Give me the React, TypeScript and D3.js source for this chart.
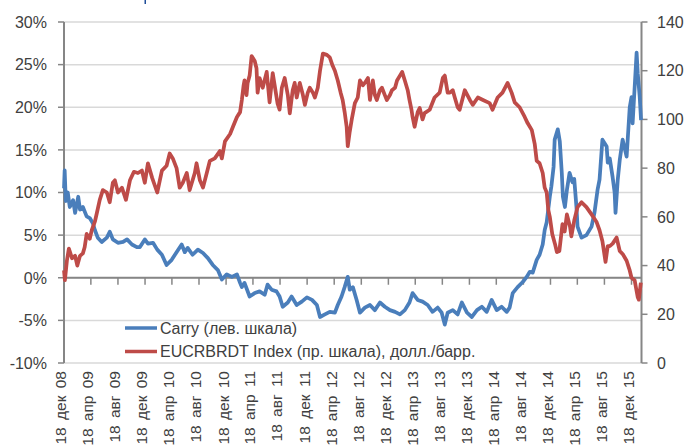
import * as d3 from "d3";

// размеры картинки
const W = 691;
const H = 446;
const plot = { left: 64, right: 641.5, top: 22, bottom: 363 };

const leftTicks = [-10, -5, 0, 5, 10, 15, 20, 25, 30];
const rightTicks = [0, 20, 40, 60, 80, 100, 120, 140];
const monthsRu = ["янв", "фев", "мар", "апр", "май", "июн", "июл", "авг", "сен", "окт", "ноя", "дек"];
const xTickDates = [
  "2008-12-18", "2009-04-18", "2009-08-18", "2009-12-18", "2010-04-18", "2010-08-18",
  "2010-12-18", "2011-04-18", "2011-08-18", "2011-12-18", "2012-04-18", "2012-08-18",
  "2012-12-18", "2013-04-18", "2013-08-18", "2013-12-18", "2014-04-18", "2014-08-18",
  "2014-12-18", "2015-04-18", "2015-08-18", "2015-12-18",
];

const legendLabels = ["Carry (лев. шкала)", "EUCRBRDT Index (пр. шкала), долл./барр."];

// Carry, %
const carry: [string, number][] = [
  ["2008-12-18", 10.5], ["2008-12-21", 12.6], ["2008-12-26", 9.0], ["2009-01-04", 10.0], ["2009-01-13", 8.3],
  ["2009-01-28", 9.1], ["2009-02-06", 7.6], ["2009-02-20", 9.5], ["2009-02-28", 8.0], ["2009-03-13", 8.3],
  ["2009-03-30", 7.2], ["2009-04-13", 7.0], ["2009-04-27", 6.4], ["2009-05-06", 5.6], ["2009-05-19", 4.7],
  ["2009-06-06", 4.2], ["2009-06-29", 4.7], ["2009-07-12", 5.4], ["2009-07-26", 4.5], ["2009-08-18", 4.1],
  ["2009-09-10", 4.2], ["2009-09-28", 4.5], ["2009-10-20", 3.9], ["2009-11-11", 3.6], ["2009-11-25", 3.6],
  ["2009-12-17", 4.5], ["2009-12-31", 4.0], ["2010-01-23", 4.1], ["2010-02-11", 3.3], ["2010-03-04", 2.7],
  ["2010-03-25", 1.5], ["2010-04-17", 2.1], ["2010-05-09", 3.0], ["2010-06-01", 3.9], ["2010-06-15", 3.0],
  ["2010-06-28", 3.5], ["2010-07-20", 2.7], ["2010-08-13", 3.3], ["2010-09-05", 2.9], ["2010-09-27", 2.3],
  ["2010-10-19", 1.5], ["2010-11-11", 0.9], ["2010-11-29", -0.2], ["2010-12-21", 0.4], ["2011-01-13", 0.1],
  ["2011-02-05", 0.4], ["2011-02-19", -0.6], ["2011-02-27", -1.1], ["2011-03-11", -0.6], ["2011-04-03", -2.2],
  ["2011-04-26", -1.8], ["2011-05-18", -1.6], ["2011-06-10", -2.0], ["2011-06-23", -0.8], ["2011-07-11", -1.4],
  ["2011-08-02", -1.6], ["2011-08-16", -2.2], ["2011-08-30", -3.4], ["2011-09-22", -2.9], ["2011-10-09", -2.2],
  ["2011-11-01", -3.2], ["2011-11-24", -2.8], ["2011-12-17", -2.3], ["2012-01-09", -2.6], ["2012-01-31", -3.2],
  ["2012-02-14", -4.6], ["2012-03-07", -4.3], ["2012-03-29", -4.0], ["2012-04-21", -4.1], ["2012-05-04", -3.2],
  ["2012-05-21", -2.2], ["2012-06-04", -1.1], ["2012-06-18", 0.1], ["2012-06-27", -1.4], ["2012-07-11", -1.1],
  ["2012-07-28", -2.6], ["2012-08-12", -4.1], ["2012-09-03", -3.5], ["2012-09-26", -3.2], ["2012-10-18", -3.8],
  ["2012-11-10", -2.9], ["2012-12-02", -3.4], ["2012-12-25", -3.8], ["2013-01-17", -4.0], ["2013-02-08", -4.3],
  ["2013-03-02", -3.8], ["2013-03-23", -2.9], ["2013-04-06", -1.8], ["2013-04-29", -2.6], ["2013-05-21", -2.8],
  ["2013-06-13", -3.2], ["2013-07-05", -4.0], ["2013-07-28", -3.5], ["2013-08-15", -4.1], ["2013-08-29", -5.5],
  ["2013-09-11", -4.1], ["2013-10-04", -3.8], ["2013-10-26", -4.3], ["2013-11-14", -2.9], ["2013-12-07", -4.1],
  ["2013-12-29", -4.6], ["2014-01-21", -3.8], ["2014-02-12", -3.4], ["2014-03-06", -4.0], ["2014-03-28", -2.6],
  ["2014-04-20", -3.8], ["2014-05-12", -3.4], ["2014-06-04", -4.0], ["2014-06-17", -3.5], ["2014-07-01", -1.8],
  ["2014-07-23", -1.1], ["2014-08-15", -0.5], ["2014-09-02", 0.1], ["2014-09-16", 0.7], ["2014-09-29", 0.6],
  ["2014-10-17", 2.1], ["2014-10-30", 2.7], ["2014-11-13", 3.9], ["2014-11-22", 5.6], ["2014-12-01", 6.5],
  ["2014-12-08", 8.0], ["2014-12-15", 9.5], ["2014-12-22", 10.7], ["2015-01-01", 13.0], ["2015-01-06", 16.2],
  ["2015-01-20", 17.4], ["2015-01-29", 16.0], ["2015-02-07", 12.3], ["2015-02-12", 9.5], ["2015-02-21", 8.3],
  ["2015-03-02", 10.3], ["2015-03-14", 12.3], ["2015-03-27", 11.2], ["2015-04-04", 11.6], ["2015-04-14", 8.3],
  ["2015-04-19", 6.0], ["2015-05-07", 4.7], ["2015-05-29", 5.0], ["2015-06-21", 6.0], ["2015-07-04", 7.6],
  ["2015-07-18", 10.3], ["2015-07-27", 11.5], ["2015-08-09", 16.2], ["2015-08-28", 15.4], ["2015-09-02", 13.5],
  ["2015-09-11", 14.0], ["2015-09-24", 11.8], ["2015-10-03", 10.0], ["2015-10-07", 7.6], ["2015-10-17", 11.5],
  ["2015-10-26", 13.8], ["2015-11-08", 16.2], ["2015-11-26", 14.2], ["2015-12-10", 20.0], ["2015-12-18", 21.2],
  ["2015-12-23", 18.1], ["2016-01-10", 26.4], ["2016-01-15", 24.0], ["2016-01-24", 21.2], ["2016-01-30", 18.5],
];

// Brent, долл./барр.
const brent: [string, number][] = [
  ["2008-12-18", 38], ["2008-12-22", 34], ["2008-12-31", 42], ["2009-01-09", 47], ["2009-01-23", 43],
  ["2009-02-06", 44], ["2009-02-16", 40], ["2009-02-28", 44], ["2009-03-13", 45], ["2009-03-21", 47.5],
  ["2009-03-30", 53], ["2009-04-13", 51], ["2009-04-22", 54.5], ["2009-05-06", 58], ["2009-05-15", 61.6],
  ["2009-05-28", 67], ["2009-06-11", 71], ["2009-06-29", 70], ["2009-07-12", 66], ["2009-07-26", 74],
  ["2009-08-04", 75], ["2009-08-18", 70], ["2009-09-05", 72], ["2009-09-23", 67], ["2009-10-11", 75],
  ["2009-10-29", 78.5], ["2009-11-16", 78], ["2009-12-04", 79], ["2009-12-17", 74], ["2009-12-31", 82],
  ["2010-01-19", 76], ["2010-02-11", 70], ["2010-03-04", 79], ["2010-03-25", 81], ["2010-04-08", 86],
  ["2010-04-22", 84], ["2010-05-09", 80], ["2010-05-23", 72], ["2010-06-06", 74], ["2010-06-24", 78],
  ["2010-07-07", 71], ["2010-07-30", 78], ["2010-08-07", 82], ["2010-08-22", 75], ["2010-09-05", 72],
  ["2010-09-22", 78], ["2010-10-06", 83], ["2010-10-28", 84], ["2010-11-20", 87], ["2010-11-29", 84],
  ["2010-12-13", 91], ["2011-01-05", 94], ["2011-01-18", 97], ["2011-02-05", 101], ["2011-02-19", 103],
  ["2011-02-27", 108], ["2011-03-07", 114], ["2011-03-11", 116], ["2011-03-20", 110], ["2011-03-25", 115],
  ["2011-04-03", 118], ["2011-04-12", 126], ["2011-04-26", 124], ["2011-05-04", 121], ["2011-05-09", 111],
  ["2011-05-18", 117], ["2011-06-01", 113], ["2011-06-19", 119.5], ["2011-07-02", 107], ["2011-07-16", 119],
  ["2011-08-07", 106.5], ["2011-08-16", 104], ["2011-08-26", 113], ["2011-09-08", 117], ["2011-09-22", 110],
  ["2011-10-01", 102.5], ["2011-10-14", 112], ["2011-10-23", 115], ["2011-11-01", 109], ["2011-11-15", 115],
  ["2011-11-29", 110], ["2011-12-08", 106], ["2011-12-21", 111], ["2011-12-30", 113], ["2012-01-13", 111],
  ["2012-01-22", 109], ["2012-02-04", 113], ["2012-02-14", 120], ["2012-02-27", 127], ["2012-03-16", 126.5],
  ["2012-03-29", 125.5], ["2012-04-11", 122], ["2012-04-21", 120], ["2012-05-04", 116], ["2012-05-17", 111],
  ["2012-05-26", 108], ["2012-06-04", 103], ["2012-06-13", 97], ["2012-06-18", 89], ["2012-06-27", 95],
  ["2012-07-06", 100], ["2012-07-20", 106.7], ["2012-08-02", 109], ["2012-08-12", 116], ["2012-08-25", 114],
  ["2012-09-03", 115], ["2012-09-17", 117], ["2012-09-26", 108], ["2012-10-09", 116], ["2012-10-18", 110],
  ["2012-10-27", 108], ["2012-11-10", 112], ["2012-11-19", 113], ["2012-12-02", 110], ["2012-12-11", 108],
  ["2012-12-25", 110], ["2013-01-03", 112], ["2013-01-17", 113], ["2013-01-26", 116], ["2013-02-08", 118],
  ["2013-02-18", 119.5], ["2013-03-02", 116], ["2013-03-15", 112], ["2013-03-23", 108], ["2013-04-01", 104],
  ["2013-04-06", 101], ["2013-04-15", 97], ["2013-04-29", 103], ["2013-05-08", 104.7], ["2013-05-21", 100],
  ["2013-05-30", 102.6], ["2013-06-22", 104], ["2013-07-14", 109], ["2013-08-06", 111], ["2013-08-20", 117],
  ["2013-08-29", 118], ["2013-09-11", 111], ["2013-09-21", 111], ["2013-10-04", 112], ["2013-10-13", 109],
  ["2013-10-26", 105], ["2013-11-04", 104], ["2013-11-27", 112], ["2013-12-20", 108], ["2014-01-02", 106],
  ["2014-01-25", 109], ["2014-02-17", 108], ["2014-03-19", 106.7], ["2014-04-01", 104], ["2014-04-24", 109],
  ["2014-05-16", 111], ["2014-06-08", 115], ["2014-06-26", 111], ["2014-07-10", 107], ["2014-08-01", 105],
  ["2014-08-24", 101], ["2014-09-06", 98.5], ["2014-09-25", 95.6], ["2014-10-08", 90], ["2014-10-17", 83],
  ["2014-10-30", 82], ["2014-11-13", 78], ["2014-11-22", 72], ["2014-12-01", 70], ["2014-12-08", 63],
  ["2014-12-15", 60], ["2014-12-26", 53], ["2015-01-07", 49], ["2015-01-16", 45.5], ["2015-01-27", 46],
  ["2015-02-10", 57], ["2015-02-20", 54], ["2015-03-02", 61], ["2015-03-16", 56], ["2015-03-22", 52],
  ["2015-04-04", 58.5], ["2015-04-19", 64], ["2015-05-07", 66], ["2015-05-29", 64], ["2015-06-21", 61],
  ["2015-07-13", 58], ["2015-07-27", 54.5], ["2015-08-09", 50], ["2015-08-23", 41.5], ["2015-09-02", 48],
  ["2015-09-11", 48], ["2015-09-24", 49], ["2015-10-12", 51.5], ["2015-10-26", 46], ["2015-11-10", 44.5],
  ["2015-11-26", 42], ["2015-12-10", 38], ["2015-12-18", 35], ["2016-01-01", 34], ["2016-01-15", 27],
  ["2016-01-20", 26], ["2016-01-29", 33],
];

const parse = d3.utcParse("%Y-%m-%d");
const BLUE = "#4a7ebb";
const RED = "#be4b48";
const AXIS = "#868686";
const GRID = "#d9d9d9";
const TEXT = "#404040";
const FONT = "'Liberation Sans', Arial, sans-serif";

export default function App() {
  const x = d3.scaleUtc()
    .domain([parse("2008-12-18")!, parse("2016-02-01")!])
    .range([plot.left, plot.right]);
  const yL = d3.scaleLinear().domain([-10, 30]).range([plot.bottom, plot.top]);
  const yR = d3.scaleLinear().domain([0, 140]).range([plot.bottom, plot.top]);

  const lineL = d3.line<[string, number]>()
    .x(d => x(parse(d[0])!))
    .y(d => yL(d[1]));
  const lineR = d3.line<[string, number]>()
    .x(d => x(parse(d[0])!))
    .y(d => yR(d[1]));

  const fmt = (s: string) => {
    const d = parse(s)!;
    return `${d.getUTCDate()} ${monthsRu[d.getUTCMonth()]} ${String(d.getUTCFullYear()).slice(2)}`;
  };

  const y0 = yL(0);

  return (
    <svg width={W} height={H} style={{ position: "absolute", left: 0, top: 0, background: "#fff" }}
      fontFamily={FONT}>
      {/* кусочек заголовка сверху */}
      <rect x={144.5} y={0} width={1.5} height={4} fill="#1f4e99" />

      {/* сетка */}
      {leftTicks.map(t => (
        <line key={"g" + t} x1={plot.left} x2={plot.right} y1={yL(t)} y2={yL(t)}
          stroke={GRID} strokeWidth={1.5} />
      ))}

      {/* левая ось */}
      <line x1={plot.left} x2={plot.left} y1={plot.top} y2={plot.bottom} stroke={AXIS} strokeWidth={2} />
      {leftTicks.map(t => (
        <g key={"l" + t}>
          <line x1={plot.left - 6} x2={plot.left} y1={yL(t)} y2={yL(t)} stroke={AXIS} strokeWidth={1.5} />
          <text x={47} y={yL(t)} dy="0.36em" textAnchor="end" fontSize={16} fill={TEXT}>{t}%</text>
        </g>
      ))}

      {/* правая ось */}
      <line x1={plot.right} x2={plot.right} y1={plot.top} y2={plot.bottom} stroke={AXIS} strokeWidth={2} />
      {rightTicks.map(t => (
        <g key={"r" + t}>
          <line x1={plot.right} x2={plot.right + 6} y1={yR(t)} y2={yR(t)} stroke={AXIS} strokeWidth={1.5} />
          <text x={657} y={yR(t)} dy="0.36em" textAnchor="start" fontSize={16} fill={TEXT}>{t}</text>
        </g>
      ))}

      {/* ось дат на нуле */}
      <line x1={plot.left} x2={plot.right} y1={y0} y2={y0} stroke={AXIS} strokeWidth={2} />
      {xTickDates.map(s => {
        const xx = x(parse(s)!);
        return (
          <g key={s}>
            <line x1={xx} x2={xx} y1={y0} y2={y0 + 7} stroke={AXIS} strokeWidth={1.5} />
            <text transform={`translate(${xx - 3},371) rotate(-90)`} dy="0.35em" textAnchor="end"
              fontSize={15.5} fill={TEXT} wordSpacing={3}>{fmt(s)}</text>
          </g>
        );
      })}

      {/* линии */}
      <path d={lineL(carry) ?? ""} fill="none" stroke={BLUE} strokeWidth={3.75} strokeLinejoin="round" />
      <path d={lineR(brent) ?? ""} fill="none" stroke={RED} strokeWidth={3.75} strokeLinejoin="round" />

      {/* легенда */}
      {[BLUE, RED].map((c, i) => (
        <g key={c} transform={`translate(0,${328 + i * 23.5})`}>
          <line x1={125} x2={157} y1={0} y2={0} stroke={c} strokeWidth={3.5} />
          <text x={160} y={0} dy="0.36em" fontSize={16} fill={TEXT}>{legendLabels[i]}</text>
        </g>
      ))}
    </svg>
  );
}
